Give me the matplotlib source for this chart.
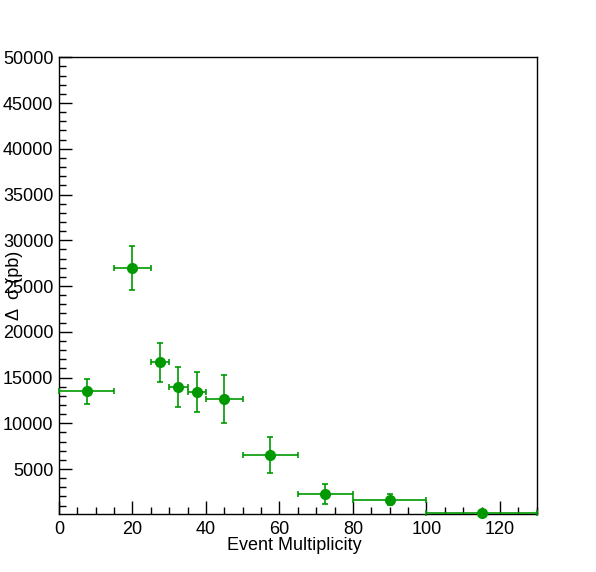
import numpy as np
import matplotlib
matplotlib.use('Agg')
import matplotlib.pyplot as plt
from matplotlib.ticker import MultipleLocator

plt.rcParams['font.family'] = ['Liberation Sans', 'DejaVu Sans']

# Bin edges and centres (event multiplicity)
bin_lo = [0, 15, 25, 30, 35, 40, 50, 65, 80, 100]
bin_hi = [15, 25, 30, 35, 40, 50, 65, 80, 100, 130]
x_center = [7.5, 20, 27.5, 32.5, 37.5, 45, 57.5, 72.5, 90, 115]

# Cross section (pb) and its error
sigma = [13500, 26950, 16650, 13950, 13400, 12700, 6500, 2280, 1650, 150]
sigma_err = [1350, 2400, 2170, 2170, 2180, 2620, 1950, 1120, 600, 60]

GREEN = '#009900'

fig = plt.figure(figsize=(5.96, 5.72), dpi=100)
ax = fig.add_axes([59 / 596, 1 - 514.3 / 572, 477.7 / 596, 457 / 572])

x = np.array(x_center)
xerr = [x - np.array(bin_lo), np.array(bin_hi) - x]
ax.errorbar(x, sigma, xerr=xerr, yerr=sigma_err, fmt='o', color=GREEN,
            ecolor=GREEN, markersize=7, elinewidth=1.2, capsize=2.0,
            capthick=1.2, clip_on=False, zorder=5)

ax.set_xlim(0, 130)
ax.set_ylim(50, 50000)

ax.xaxis.set_major_locator(MultipleLocator(20))
ax.xaxis.set_minor_locator(MultipleLocator(5))
ax.yaxis.set_major_locator(MultipleLocator(5000))
ax.yaxis.set_minor_locator(MultipleLocator(1000))
ax.set_yticks(np.arange(5000, 50001, 5000))

ax.tick_params(axis='both', which='both', direction='in', top=False, right=False,
               labelsize=13, width=1, colors='black')
ax.tick_params(axis='both', which='major', length=9.5)
ax.tick_params(axis='both', which='minor', length=5)
ax.tick_params(axis='y', pad=4)
ax.tick_params(axis='x', pad=5)

for s in ax.spines.values():
    s.set_linewidth(1.0)

ax.set_xlabel('Event Multiplicity', fontsize=13)
ax.xaxis.set_label_coords(0.492, -0.068)
ax.xaxis.label.set_va('center')
ax.set_ylabel('Δ  σ (pb)', fontsize=13)
ax.yaxis.set_label_coords(-0.094, 0.502)
ax.yaxis.label.set_va('center')

fig.savefig('out.png', dpi=100, facecolor='white')
